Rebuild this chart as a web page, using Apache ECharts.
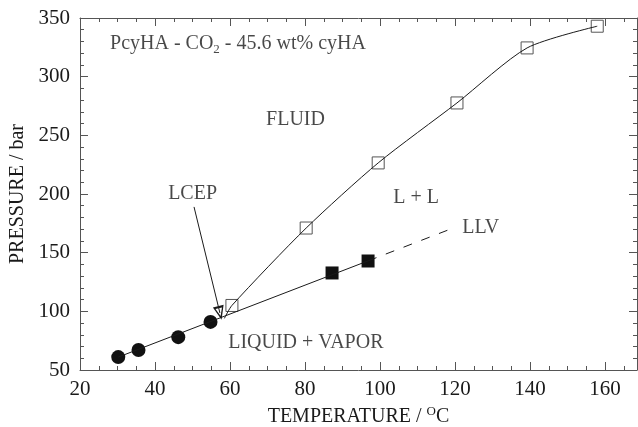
<!DOCTYPE html>
<html>
<head>
<meta charset="utf-8">
<script src="https://cdn.jsdelivr.net/npm/echarts@6/dist/echarts.min.js"></script>
<style>
  html, body { margin: 0; padding: 0; background: #fff; }
  #chart { width: 638px; height: 427px; }
</style>
</head>
<body>
<div id="chart"></div>
<script>
// LV 实验点 (实心圆)
var lvPoints = [[30.2, 61], [35.6, 67], [46.2, 78], [54.8, 91]];
// LLV 实验点 (实心方块)
var llvPoints = [[87.2, 132.7], [96.8, 142.9]];
// LL 实验点 (空心方块)
var llPoints = [[60.5, 105], [80.3, 171], [99.5, 226.5], [120.5, 277.6], [139.2, 324.5], [157.9, 343]];
// 曲线
var lcep = [58.5, 94];
var llvLine = [[30.2, 61], [96.8, 143]];
var llvDashed = [[96.8, 143], [118.7, 170]];
var llCurve = [lcep].concat(llPoints);
// 文字注释 [T, P, text]
var notes = [
    [28, 328, 'PcyHA - CO{sub|2} - 45.6 wt% cyHA'],
    [69.6, 263, 'FLUID'],
    [103.5, 196.6, 'L + L'],
    [121.9, 171, 'LLV'],
    [59.5, 73, 'LIQUID + VAPOR'],
    [43.5, 200, 'LCEP']
];
var arrowFrom = [50.4, 189];
var arrowTo = [57.3, 98.6];

var xTicks = { min: 20, max: 168.5, interval: 20 };
var yTicks = { min: 50, max: 350, interval: 50 };

var font = 'Liberation Serif';
var ink = '#1a1a1a';
var axisInk = '#555';

var chart = echarts.init(document.getElementById('chart'));

function axisBase(extra) {
    return Object.assign({
        type: 'value',
        axisLine: { show: true, lineStyle: { color: axisInk, width: 1 } },
        axisTick: { show: true, inside: true, length: 8, lineStyle: { color: axisInk } },
        minorTick: { show: true, length: 4, lineStyle: { color: axisInk } },
        splitLine: { show: false }
    }, extra);
}

var option = {
    animation: false,
    grid: { left: 80, right: 1, top: 18, bottom: 57, containLabel: false, outerBoundsMode: 'none' },
    xAxis: [
        axisBase({
            position: 'bottom',
            min: xTicks.min, max: xTicks.max, interval: xTicks.interval,
            minorTick: { show: true, splitNumber: 4, length: 4, lineStyle: { color: axisInk } },
            axisLabel: {
                showMaxLabel: false,
                color: ink, fontFamily: font, fontSize: 21, margin: 9
            },
            name: 'TEMPERATURE / {sup|O}C',
            nameLocation: 'middle',
            nameGap: 29,
            nameTextStyle: {
                color: ink, fontFamily: font, fontSize: 20,
                rich: { sup: { fontSize: 13, verticalAlign: 'top', padding: [0, 0, 10, 0], fontFamily: font, color: ink } }
            }
        }),
        axisBase({
            position: 'top',
            min: xTicks.min, max: xTicks.max, interval: xTicks.interval,
            minorTick: { show: true, splitNumber: 4, length: 4, lineStyle: { color: axisInk } },
            axisLabel: { show: false }
        })
    ],
    yAxis: [
        axisBase({
            position: 'left',
            min: yTicks.min, max: yTicks.max, interval: yTicks.interval,
            minorTick: { show: true, splitNumber: 5, length: 4, lineStyle: { color: axisInk } },
            axisLabel: { color: ink, fontFamily: font, fontSize: 21, margin: 10 },
            name: 'PRESSURE / bar',
            nameLocation: 'middle',
            nameRotate: 90,
            nameGap: 50,
            nameTextStyle: { color: ink, fontFamily: font, fontSize: 20 }
        }),
        axisBase({
            position: 'right',
            min: yTicks.min, max: yTicks.max, interval: yTicks.interval,
            minorTick: { show: true, splitNumber: 5, length: 4, lineStyle: { color: axisInk } },
            axisLabel: { show: false }
        })
    ],
    series: [
        {
            type: 'line',
            data: llvLine,
            symbol: 'none',
            lineStyle: { color: ink, width: 1 }
        },
        {
            type: 'line',
            data: llvDashed,
            symbol: 'none',
            lineStyle: { color: ink, width: 1, type: [9, 10] }
        },
        {
            type: 'line',
            data: llCurve,
            symbol: 'none',
            smooth: 0.25,
            lineStyle: { color: ink, width: 1 },
            markLine: {
                silent: true,
                symbol: ['none', 'path://M0,0L7,16L-7,16Z M0,4.5L-4.2,13.6L4.2,13.6Z'],
                symbolSize: [11, 14],
                label: { show: false },
                lineStyle: { color: ink, width: 1, type: 'solid' },
                data: [[{ coord: arrowFrom }, { coord: arrowTo }]]
            }
        },
        {
            type: 'scatter',
            data: lvPoints,
            symbol: 'circle',
            symbolSize: 14,
            itemStyle: { color: '#111', opacity: 1 }
        },
        {
            type: 'scatter',
            data: llvPoints,
            symbol: 'rect',
            symbolSize: 13,
            itemStyle: { color: '#111', opacity: 1 }
        },
        {
            type: 'scatter',
            data: llPoints,
            symbol: 'rect',
            symbolSize: 12,
            itemStyle: { color: '#fff', borderColor: '#555', borderWidth: 1, opacity: 1 }
        },
        {
            type: 'scatter',
            data: notes.map(function (n) { return { value: [n[0], n[1]], text: n[2] }; }),
            symbolSize: 0,
            silent: true,
            label: {
                show: true,
                position: 'right',
                distance: 0,
                color: ink,
                fontFamily: font,
                fontSize: 20,
                formatter: function (p) { return p.data.text; },
                rich: { sub: { fontSize: 13, verticalAlign: 'bottom', padding: [12, 0, 0, 0], fontFamily: font, color: ink } }
            }
        }
    ]
};

chart.setOption(option);
</script>
</body>
</html>
